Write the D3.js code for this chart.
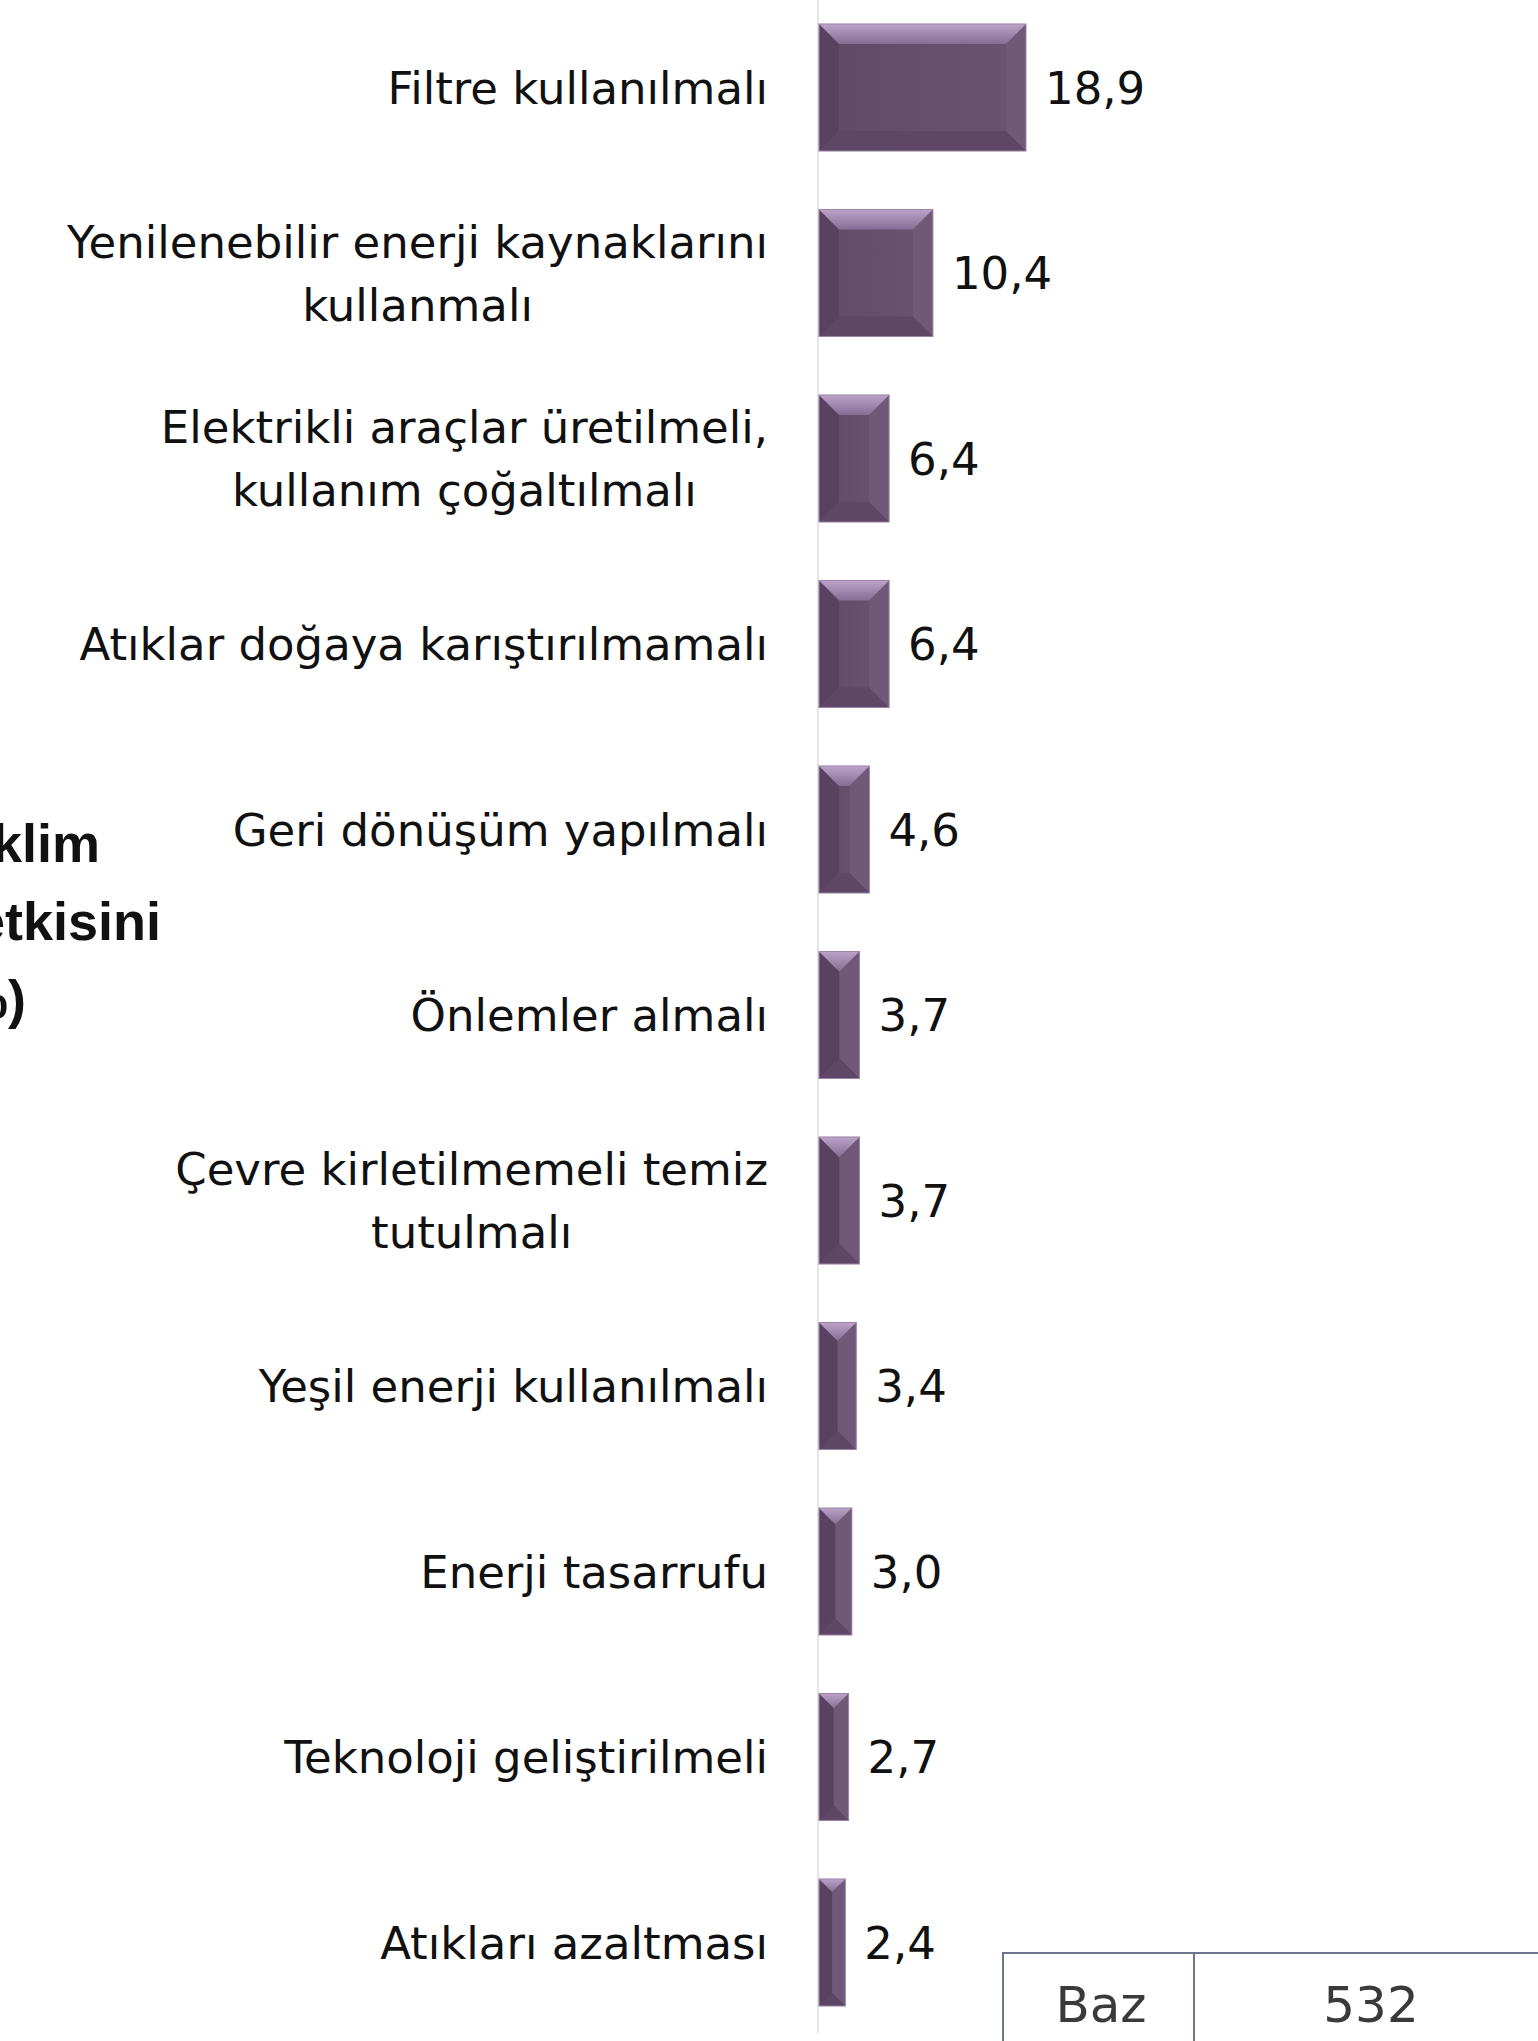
<!DOCTYPE html>
<html>
<head>
<meta charset="utf-8">
<script src="https://cdn.jsdelivr.net/npm/d3@7"></script>
<style>
  html, body { margin: 0; padding: 0; background: #fff; overflow: hidden; }
  svg { display: block; }
</style>
</head>
<body>
<div id="chart"></div>
<script>
// chart data
const categories = [
  "Filtre kullanılmalı",
  "Yenilenebilir enerji kaynaklarını\nkullanmalı",
  "Elektrikli araçlar üretilmeli,\nkullanım çoğaltılmalı",
  "Atıklar doğaya karıştırılmamalı",
  "Geri dönüşüm yapılmalı",
  "Önlemler almalı",
  "Çevre kirletilmemeli temiz\ntutulmalı",
  "Yeşil enerji kullanılmalı",
  "Enerji tasarrufu",
  "Teknoloji geliştirilmeli",
  "Atıkları azaltması"
];
const values = [18.9, 10.4, 6.4, 6.4, 4.6, 3.7, 3.7, 3.4, 3.0, 2.7, 2.4];
const titleLines = ["İklim", "etkisini", "(%)"];
const baseLabel = "Baz";
const baseValue = 532;

const width = 1538;
const height = 2041;
const axisX = 819;
const labelFont = "'DejaVu Sans', sans-serif";

const svg = d3.select('#chart')
  .append('svg')
  .attr('width', width)
  .attr('height', height);

const defs = svg.append('defs');
const topGrad = defs.append('linearGradient')
  .attr('id', 'bevelTop')
  .attr('x1', 0).attr('y1', 0).attr('x2', 0).attr('y2', 1);
topGrad.append('stop').attr('offset', '0%').attr('stop-color', '#bba3c9');
topGrad.append('stop').attr('offset', '100%').attr('stop-color', '#876d93');

const faceGrad = defs.append('linearGradient')
  .attr('id', 'face')
  .attr('x1', 0).attr('y1', 0).attr('x2', 1).attr('y2', 0);
faceGrad.append('stop').attr('offset', '0%').attr('stop-color', '#604a67');
faceGrad.append('stop').attr('offset', '100%').attr('stop-color', '#6b5372');

const x = d3.scaleLinear()
  .domain([0, d3.max(values)])
  .range([axisX, 1026]);

const y = d3.scaleBand()
  .domain(categories)
  .range([-5.25, -5.25 + categories.length * 185.5])
  .paddingInner(0.315)
  .paddingOuter(0.1575);

const fmt = d3.formatLocale({decimal: ",", thousands: ".", grouping: [3], currency: ["", ""]}).format(".1f");

// vertical axis line
svg.append('line')
  .attr('x1', axisX - 1).attr('x2', axisX - 1)
  .attr('y1', 0).attr('y2', 2033)
  .style('stroke', '#e6e3eb')
  .style('stroke-width', 2);

// bars with bevel
const rows = categories.map((c, i) => ({cat: c, value: values[i]}));
const bars = svg.append('g').selectAll('g.bar')
  .data(rows)
  .enter().append('g')
    .attr('class', 'bar');

bars.each(function (d) {
  const g = d3.select(this);
  const x0 = x(0), x1 = x(d.value);
  const y0 = y(d.cat), y1 = y0 + y.bandwidth();
  const b = Math.min(20, (x1 - x0) / 2, (y1 - y0) / 2);
  g.append('rect')
    .attr('x', x0).attr('y', y0)
    .attr('width', x1 - x0).attr('height', y1 - y0)
    .attr('fill', 'url(#face)');
  const poly = (pts, fill) => g.append('polygon')
    .attr('points', pts.map(p => p.join(',')).join(' '))
    .attr('fill', fill);
  poly([[x0, y0], [x0 + b, y0 + b], [x0 + b, y1 - b], [x0, y1]], '#584260');
  poly([[x1, y0], [x1, y1], [x1 - b, y1 - b], [x1 - b, y0 + b]], '#6f5878');
  poly([[x0, y1], [x1, y1], [x1 - b, y1 - b], [x0 + b, y1 - b]], '#5e4766');
  poly([[x0, y0], [x1, y0], [x1 - b, y0 + b], [x0 + b, y0 + b]], 'url(#bevelTop)');
  g.append('rect')
    .attr('x', x0).attr('y', y0)
    .attr('width', x1 - x0).attr('height', y1 - y0)
    .attr('fill', 'none')
    .attr('stroke', '#9c86a8')
    .attr('stroke-width', 1);
});

// value labels
svg.append('g').selectAll('text')
  .data(rows)
  .enter().append('text')
    .attr('x', d => x(d.value) + 19)
    .attr('y', d => y(d.cat) + y.bandwidth() / 2)
    .attr('dy', '0.36em')
    .style('font-family', labelFont)
    .style('font-size', '45px')
    .style('fill', '#111')
    .text(d => fmt(d.value));

// category axis with wrapped, centered labels
const lineHeight = 63;
const yAxis = d3.axisLeft(y).tickSize(0).tickPadding(51);
const axisG = svg.append('g')
  .attr('transform', `translate(${axisX},0)`)
  .call(yAxis);
axisG.select('.domain').remove();
axisG.selectAll('.tick text')
  .style('font-family', labelFont)
  .style('font-size', '45px')
  .style('fill', '#111')
  .each(function (d) {
    const t = d3.select(this);
    const lines = d.split('\n');
    t.text(null).attr('dy', null);
    const spans = lines.map((ln, i) => t.append('tspan')
      .attr('x', -51)
      .attr('dy', i === 0 ? (-(lines.length - 1) / 2 * lineHeight) + 'px' : lineHeight + 'px')
      .text(ln));
    spans[0].attr('dy', (-(lines.length - 1) / 2 * lineHeight + 16) + 'px');
    if (lines.length > 1) {
      const maxW = d3.max(spans, s => s.node().getComputedTextLength());
      t.attr('text-anchor', 'middle');
      spans.forEach(s => s.attr('x', -51 - maxW / 2));
    }
  });

// title, cut off at left edge
svg.append('g').selectAll('text')
  .data(titleLines)
  .enter().append('text')
    .attr('x', (d, i) => [100, 161, 26][i])
    .attr('y', (d, i) => 862 + i * 78)
    .attr('text-anchor', 'end')
    .style('font-family', "'Liberation Sans', sans-serif")
    .style('font-weight', 'bold')
    .style('font-size', '54px')
    .style('fill', '#111')
    .text(d => d);

// base table
const tbl = svg.append('g');
tbl.append('path')
  .attr('d', 'M1003,2045 V1953 H1545 M1194,1953 V2045')
  .attr('fill', 'none')
  .attr('stroke', '#6c7590')
  .attr('stroke-width', 2);
tbl.selectAll('text')
  .data([{t: baseLabel, cx: 1101}, {t: baseValue, cx: 1371}])
  .enter().append('text')
    .attr('x', d => d.cx)
    .attr('y', 2022)
    .attr('text-anchor', 'middle')
    .style('font-family', labelFont)
    .style('font-size', '50px')
    .style('fill', '#3a3a3a')
    .text(d => d.t);
</script>
</body>
</html>
